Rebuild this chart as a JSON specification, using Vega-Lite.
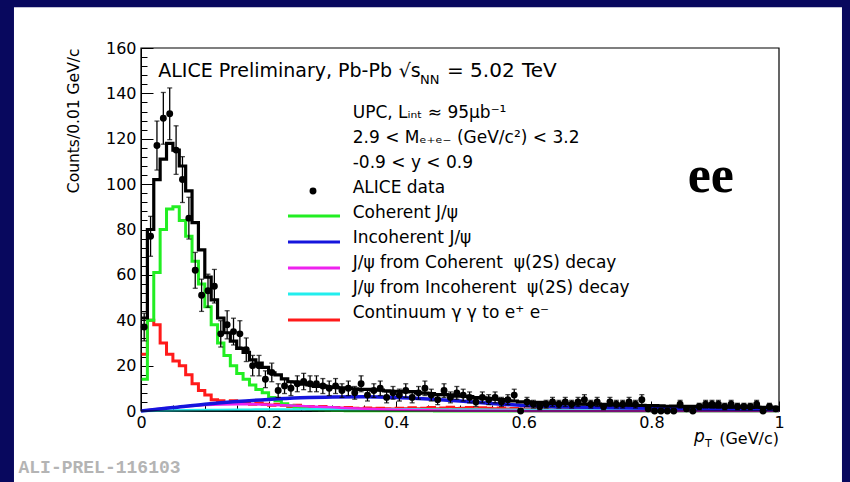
{
  "$schema": "https://vega.github.io/schema/vega-lite/v6.json",
  "width": 638,
  "height": 363,
  "autosize": {"type": "none"},
  "padding": {"left": 141, "top": 48, "right": 71, "bottom": 71},
  "background": "white",
  "resolve": {"axis": {"x": "independent", "y": "independent"}},
  "datasets": {
    "bins": [
      {"pt":0.00,"tot":41,"coh":14,"con":25},{"pt":0.01,"tot":80,"coh":40,"con":40},{"pt":0.02,"tot":102,"coh":61,"con":38},{"pt":0.03,"tot":111,"coh":80,"con":30},{"pt":0.04,"tot":118,"coh":89,"con":25},
      {"pt":0.05,"tot":115,"coh":90,"con":22},{"pt":0.06,"tot":108,"coh":84,"con":20},{"pt":0.07,"tot":97,"coh":77,"con":16},{"pt":0.08,"tot":83,"coh":66,"con":12},{"pt":0.09,"tot":71,"coh":56,"con":9},
      {"pt":0.10,"tot":59,"coh":46,"con":7},{"pt":0.11,"tot":49,"coh":38,"con":5},{"pt":0.12,"tot":41,"coh":30,"con":4.5},{"pt":0.13,"tot":34.5,"coh":24.5,"con":3.5},{"pt":0.14,"tot":30.8,"coh":20,"con":4.5},
      {"pt":0.15,"tot":27.6,"coh":16.5,"con":3.5},{"pt":0.16,"tot":25.8,"coh":14,"con":4},{"pt":0.17,"tot":22.5,"coh":11.5,"con":3},{"pt":0.18,"tot":21.1,"coh":9.5,"con":3.5},{"pt":0.19,"tot":19.2,"coh":8,"con":3},
      {"pt":0.20,"tot":16.8,"coh":6,"con":2.5},{"pt":0.21,"tot":15.9,"coh":4.5,"con":3},{"pt":0.22,"tot":14.2,"coh":3.2,"con":2.5},{"pt":0.23,"tot":12.9,"coh":2.3,"con":2},{"pt":0.24,"tot":12.7,"coh":1.6,"con":2.5},
      {"pt":0.25,"tot":11.8,"coh":1.1,"con":2},{"pt":0.26,"tot":11.5,"coh":0.8,"con":2},{"pt":0.27,"tot":10.8,"coh":0.6,"con":1.5},{"pt":0.28,"tot":11.1,"coh":0.4,"con":2},{"pt":0.29,"tot":10.5,"coh":0.3,"con":1.5},
      {"pt":0.30,"tot":10.4,"coh":0.2,"con":1.5},{"pt":0.31,"tot":10.2,"coh":0.2,"con":1.2},{"pt":0.32,"tot":10.1,"coh":0.1,"con":1.5},{"pt":0.33,"tot":9.8,"coh":0.1,"con":1.2},{"pt":0.34,"tot":9.5,"coh":0.1,"con":1.0},
      {"pt":0.35,"tot":9.5,"coh":0.1,"con":1.3},{"pt":0.36,"tot":9.2,"coh":0.1,"con":1.0},{"pt":0.37,"tot":9.2,"coh":0.1,"con":1.2},{"pt":0.38,"tot":8.9,"coh":0.1,"con":1.0},{"pt":0.39,"tot":8.7,"coh":0.1,"con":0.9},
      {"pt":0.40,"tot":8.7,"coh":0.1,"con":1.2},{"pt":0.41,"tot":8.4,"coh":0.1,"con":1.0},{"pt":0.42,"tot":8.5,"coh":0.1,"con":1.4},{"pt":0.43,"tot":8.0,"coh":0.1,"con":1.0},{"pt":0.44,"tot":7.9,"coh":0.1,"con":1.2},
      {"pt":0.45,"tot":7.7,"coh":0.1,"con":1.5},{"pt":0.46,"tot":7.2,"coh":0,"con":1.0},{"pt":0.47,"tot":7.2,"coh":0,"con":1.3},{"pt":0.48,"tot":7.1,"coh":0,"con":1.6},{"pt":0.49,"tot":6.6,"coh":0,"con":1.1},
      {"pt":0.50,"tot":6.5,"coh":0,"con":1.2},{"pt":0.51,"tot":6.4,"coh":0,"con":1.5},{"pt":0.52,"tot":5.9,"coh":0,"con":1.0},{"pt":0.53,"tot":5.8,"coh":0,"con":1.4},{"pt":0.54,"tot":5.5,"coh":0,"con":1.2},
      {"pt":0.55,"tot":5.2,"coh":0,"con":1.0},{"pt":0.56,"tot":5.0,"coh":0,"con":1.3},{"pt":0.57,"tot":4.5,"coh":0,"con":0.9},{"pt":0.58,"tot":4.4,"coh":0,"con":1.1},{"pt":0.59,"tot":4.0,"coh":0,"con":0.8},
      {"pt":0.60,"tot":4.0,"coh":0,"con":0.9},{"pt":0.61,"tot":3.7,"coh":0,"con":0.7},{"pt":0.62,"tot":3.8,"coh":0,"con":1.0},{"pt":0.63,"tot":3.5,"coh":0,"con":0.8},{"pt":0.64,"tot":3.3,"coh":0,"con":0.6},
      {"pt":0.65,"tot":3.4,"coh":0,"con":0.9},{"pt":0.66,"tot":3.2,"coh":0,"con":0.7},{"pt":0.67,"tot":3.2,"coh":0,"con":0.8},{"pt":0.68,"tot":3.0,"coh":0,"con":0.6},{"pt":0.69,"tot":3.0,"coh":0,"con":0.7},
      {"pt":0.70,"tot":2.9,"coh":0,"con":0.6},{"pt":0.71,"tot":3.0,"coh":0,"con":0.8},{"pt":0.72,"tot":2.7,"coh":0,"con":0.5},{"pt":0.73,"tot":2.8,"coh":0,"con":0.7},{"pt":0.74,"tot":2.7,"coh":0,"con":0.6},
      {"pt":0.75,"tot":2.6,"coh":0,"con":0.5},{"pt":0.76,"tot":2.7,"coh":0,"con":0.7},{"pt":0.77,"tot":2.5,"coh":0,"con":0.5},{"pt":0.78,"tot":2.5,"coh":0,"con":0.6},{"pt":0.79,"tot":2.4,"coh":0,"con":0.5},
      {"pt":0.80,"tot":2.4,"coh":0,"con":0.6},{"pt":0.81,"tot":2.3,"coh":0,"con":0.5},{"pt":0.82,"tot":2.1,"coh":0,"con":0.4},{"pt":0.83,"tot":2.2,"coh":0,"con":0.6},{"pt":0.84,"tot":2.1,"coh":0,"con":0.5},
      {"pt":0.85,"tot":2.0,"coh":0,"con":0.4},{"pt":0.86,"tot":2.0,"coh":0,"con":0.5},{"pt":0.87,"tot":1.9,"coh":0,"con":0.4},{"pt":0.88,"tot":2.0,"coh":0,"con":0.5},{"pt":0.89,"tot":1.9,"coh":0,"con":0.4},
      {"pt":0.90,"tot":1.8,"coh":0,"con":0.4},{"pt":0.91,"tot":1.9,"coh":0,"con":0.5},{"pt":0.92,"tot":1.7,"coh":0,"con":0.3},{"pt":0.93,"tot":1.8,"coh":0,"con":0.4},{"pt":0.94,"tot":1.7,"coh":0,"con":0.4},
      {"pt":0.95,"tot":1.6,"coh":0,"con":0.3},{"pt":0.96,"tot":1.7,"coh":0,"con":0.4},{"pt":0.97,"tot":1.6,"coh":0,"con":0.3},{"pt":0.98,"tot":1.6,"coh":0,"con":0.4},{"pt":0.99,"tot":1.5,"coh":0,"con":0.3},
      {"pt":1.00,"tot":1.5,"coh":0,"con":0.3}
    ],
    "curves": [
      {"pt":0.00,"inc":0,"psic":0,"psii":0},{"pt":0.05,"inc":1.5,"psic":1.5,"psii":0.2},{"pt":0.10,"inc":3.0,"psic":2.6,"psii":0.4},
      {"pt":0.15,"inc":4.2,"psic":3.0,"psii":0.55},{"pt":0.20,"inc":5.1,"psic":2.8,"psii":0.65},{"pt":0.25,"inc":5.8,"psic":2.2,"psii":0.7},
      {"pt":0.30,"inc":6.2,"psic":1.6,"psii":0.75},{"pt":0.35,"inc":6.3,"psic":1.0,"psii":0.75},{"pt":0.40,"inc":6.0,"psic":0.6,"psii":0.75},
      {"pt":0.45,"inc":5.3,"psic":0.3,"psii":0.7},{"pt":0.50,"inc":4.4,"psic":0.15,"psii":0.65},{"pt":0.55,"inc":3.3,"psic":0.08,"psii":0.6},
      {"pt":0.60,"inc":2.4,"psic":0.04,"psii":0.55},{"pt":0.65,"inc":1.9,"psic":0.02,"psii":0.5},{"pt":0.70,"inc":1.6,"psic":0.01,"psii":0.45},
      {"pt":0.75,"inc":1.4,"psic":0,"psii":0.4},{"pt":0.80,"inc":1.2,"psic":0,"psii":0.35},{"pt":0.85,"inc":1.0,"psic":0,"psii":0.32},
      {"pt":0.90,"inc":0.9,"psic":0,"psii":0.3},{"pt":0.95,"inc":0.8,"psic":0,"psii":0.28},{"pt":1.00,"inc":0.7,"psic":0,"psii":0.25}
    ],
    "points": [
      {"pt":0.005,"n":37,"err":6.1},{"pt":0.015,"n":77,"err":8.8},{"pt":0.025,"n":117,"err":10.8},{"pt":0.035,"n":129,"err":11.4},{"pt":0.045,"n":131,"err":11.4},
      {"pt":0.055,"n":115,"err":10.7},{"pt":0.065,"n":102,"err":10.1},{"pt":0.075,"n":85,"err":9.2},{"pt":0.085,"n":62,"err":7.9},{"pt":0.095,"n":51,"err":7.1},
      {"pt":0.105,"n":53,"err":7.3},{"pt":0.115,"n":55,"err":7.4},{"pt":0.125,"n":34,"err":5.8},{"pt":0.135,"n":38,"err":6.2},{"pt":0.145,"n":35,"err":5.9},
      {"pt":0.155,"n":34,"err":5.8},{"pt":0.165,"n":27,"err":5.2},{"pt":0.175,"n":20,"err":4.5},{"pt":0.185,"n":20,"err":4.5},{"pt":0.195,"n":14,"err":3.7},
      {"pt":0.205,"n":17,"err":4.1},{"pt":0.215,"n":9,"err":3},{"pt":0.225,"n":11,"err":3.3},{"pt":0.235,"n":10,"err":3.2},{"pt":0.245,"n":12,"err":3.5},
      {"pt":0.255,"n":13,"err":3.6},{"pt":0.265,"n":12,"err":3.5},{"pt":0.275,"n":12,"err":3.5},{"pt":0.285,"n":11,"err":3.3},{"pt":0.295,"n":10,"err":3.2},
      {"pt":0.305,"n":11,"err":3.3},{"pt":0.315,"n":9,"err":3},{"pt":0.325,"n":10,"err":3.2},{"pt":0.335,"n":8,"err":2.8},{"pt":0.345,"n":12,"err":3.5},
      {"pt":0.355,"n":7,"err":2.6},{"pt":0.365,"n":9,"err":3},{"pt":0.375,"n":10,"err":3.2},{"pt":0.385,"n":6,"err":2.4},{"pt":0.395,"n":8,"err":2.8},
      {"pt":0.405,"n":7,"err":2.6},{"pt":0.415,"n":9,"err":3},{"pt":0.425,"n":6,"err":2.4},{"pt":0.435,"n":8,"err":2.8},{"pt":0.445,"n":10,"err":3.2},
      {"pt":0.455,"n":7,"err":2.6},{"pt":0.465,"n":5,"err":2.2},{"pt":0.475,"n":9,"err":3},{"pt":0.485,"n":6,"err":2.4},{"pt":0.495,"n":8,"err":2.8},
      {"pt":0.505,"n":7,"err":2.6},{"pt":0.515,"n":6,"err":2.4},{"pt":0.525,"n":4,"err":2},{"pt":0.535,"n":6,"err":2.4},{"pt":0.545,"n":5,"err":2.2},
      {"pt":0.555,"n":6,"err":2.4},{"pt":0.565,"n":4,"err":2},{"pt":0.575,"n":5,"err":2.2},{"pt":0.585,"n":7,"err":2.6},{"pt":0.595,"n":0,"err":0},
      {"pt":0.605,"n":4,"err":2},{"pt":0.615,"n":3,"err":1.7},{"pt":0.625,"n":2,"err":1.4},{"pt":0.635,"n":3,"err":1.7},{"pt":0.645,"n":4,"err":2},
      {"pt":0.655,"n":3,"err":1.7},{"pt":0.665,"n":4,"err":2},{"pt":0.675,"n":3,"err":1.7},{"pt":0.685,"n":4,"err":2},{"pt":0.695,"n":5,"err":2.2},
      {"pt":0.705,"n":3,"err":1.7},{"pt":0.715,"n":4,"err":2},{"pt":0.725,"n":2,"err":1.4},{"pt":0.735,"n":4,"err":2},{"pt":0.745,"n":3,"err":1.7},
      {"pt":0.755,"n":3,"err":1.7},{"pt":0.765,"n":4,"err":2},{"pt":0.775,"n":3,"err":1.7},{"pt":0.785,"n":5,"err":2.2},{"pt":0.795,"n":1,"err":1},
      {"pt":0.805,"n":0,"err":0},{"pt":0.815,"n":0,"err":0},{"pt":0.825,"n":0,"err":0},{"pt":0.835,"n":0,"err":0},{"pt":0.845,"n":3,"err":1.7},
      {"pt":0.855,"n":1,"err":1},{"pt":0.865,"n":0,"err":0},{"pt":0.875,"n":2,"err":1.4},{"pt":0.885,"n":3,"err":1.7},{"pt":0.895,"n":3,"err":1.7},
      {"pt":0.905,"n":3,"err":1.7},{"pt":0.915,"n":2,"err":1.4},{"pt":0.925,"n":3,"err":1.7},{"pt":0.935,"n":2,"err":1.4},{"pt":0.945,"n":2,"err":1.4},
      {"pt":0.955,"n":2,"err":1.4},{"pt":0.965,"n":3,"err":1.7},{"pt":0.975,"n":0,"err":0},{"pt":0.985,"n":2,"err":1.4},{"pt":0.995,"n":1,"err":1}
    ]
  },
  "config": {
    "view": {"stroke": null},
    "axis": {"grid": false, "domainColor": "black", "domainWidth": 1, "tickColor": "black", "tickWidth": 1, "labelColor": "black", "labelFont": "DejaVu Sans", "labelFontSize": 16, "titleFont": "DejaVu Sans", "titleFontWeight": "normal", "titleColor": "black", "labelFlush": false, "labelOverlap": false}
  },
  "layer": [
    {
      "data": {"name": "bins"},
      "mark": {"type": "line", "interpolate": "step-after", "color": "#ff1a1a", "strokeWidth": 3},
      "encoding": {
        "x": {"field": "pt", "type": "quantitative", "title": null, "scale": {"domain": [0, 1], "nice": false},
          "axis": {"orient": "bottom", "title": null, "values": [0, 0.2, 0.4, 0.6, 0.8, 1], "format": ".1~f", "tickSize": -10, "labelPadding": 13}},
        "y": {"field": "con", "type": "quantitative", "title": "Counts/0.01 GeV/c", "scale": {"domain": [0, 160], "nice": false},
          "axis": {"orient": "left", "title": "Counts/0.01 GeV/c", "titleAnchor": "end", "titleFontSize": 15.5, "titlePadding": 24, "format": "d",
            "values": [0, 20, 40, 60, 80, 100, 120, 140, 160], "tickSize": -12, "labelPadding": 17}}
      }
    },
    {
      "data": {"name": "bins"},
      "mark": {"type": "line", "interpolate": "step-after", "color": "#22ee22", "strokeWidth": 3},
      "encoding": {
        "x": {"field": "pt", "type": "quantitative", "title": null, "scale": {"domain": [0, 1]},
          "axis": {"orient": "bottom", "title": null, "labels": false, "domain": false, "tickSize": -6,
            "values": [0.05, 0.1, 0.15, 0.25, 0.3, 0.35, 0.45, 0.5, 0.55, 0.65, 0.7, 0.75, 0.85, 0.9, 0.95]}},
        "y": {"field": "coh", "type": "quantitative", "title": null, "scale": {"domain": [0, 160]},
          "axis": {"orient": "left", "title": null, "labels": false, "domain": false, "tickSize": -6,
            "values": [4, 8, 12, 16, 24, 28, 32, 36, 44, 48, 52, 56, 64, 68, 72, 76, 84, 88, 92, 96, 104, 108, 112, 116, 124, 128, 132, 136, 144, 148, 152, 156]}}
      }
    },
    {
      "data": {"name": "curves"},
      "mark": {"type": "line", "interpolate": "monotone", "color": "#22eeee", "strokeWidth": 2.5},
      "encoding": {"x": {"field": "pt", "type": "quantitative", "axis": null, "scale": {"domain": [0, 1]}}, "y": {"field": "psii", "type": "quantitative", "axis": null, "scale": {"domain": [0, 160]}}}
    },
    {
      "data": {"name": "curves"},
      "mark": {"type": "line", "interpolate": "monotone", "color": "#ee22ee", "strokeWidth": 2.5},
      "encoding": {"x": {"field": "pt", "type": "quantitative", "axis": null, "scale": {"domain": [0, 1]}}, "y": {"field": "psic", "type": "quantitative", "axis": null, "scale": {"domain": [0, 160]}}}
    },
    {
      "data": {"name": "curves"},
      "mark": {"type": "line", "interpolate": "monotone", "color": "#1515dd", "strokeWidth": 3.5},
      "encoding": {"x": {"field": "pt", "type": "quantitative", "axis": null, "scale": {"domain": [0, 1]}}, "y": {"field": "inc", "type": "quantitative", "axis": null, "scale": {"domain": [0, 160]}}}
    },
    {
      "data": {"name": "bins"},
      "mark": {"type": "line", "interpolate": "step-after", "color": "black", "strokeWidth": 3.2},
      "encoding": {"x": {"field": "pt", "type": "quantitative", "axis": null, "scale": {"domain": [0, 1]}}, "y": {"field": "tot", "type": "quantitative", "axis": null, "scale": {"domain": [0, 160]}}}
    },
    {
      "data": {"name": "points"},
      "transform": [{"filter": "datum.err > 0"}],
      "mark": {"type": "errorbar", "color": "black", "thickness": 1.3, "ticks": {"size": 5, "color": "black", "thickness": 1.3}},
      "encoding": {"x": {"field": "pt", "type": "quantitative", "axis": null, "scale": {"domain": [0, 1]}}, "y": {"field": "n", "type": "quantitative", "axis": null, "scale": {"domain": [0, 160]}}, "yError": {"field": "err"}}
    },
    {
      "data": {"name": "points"},
      "mark": {"type": "point", "filled": true, "color": "black", "opacity": 1, "size": 48},
      "encoding": {"x": {"field": "pt", "type": "quantitative", "axis": null, "scale": {"domain": [0, 1]}}, "y": {"field": "n", "type": "quantitative", "axis": null, "scale": {"domain": [0, 160]}}}
    },
    {
      "data": {"values": [{}]},
      "mark": {"type": "rect", "fill": null, "fillOpacity": 0, "stroke": "black", "strokeWidth": 1.2},
      "encoding": {"x": {"datum": 0, "axis": null, "scale": {"domain": [0, 1]}}, "x2": {"datum": 1}, "y": {"datum": 0, "axis": null, "scale": {"domain": [0, 160]}}, "y2": {"datum": 160}}
    },
    {
      "data": {"values": [{}]},
      "mark": {"type": "rect", "color": "#08085e"},
      "encoding": {"x": {"datum": -0.3, "axis": null, "scale": {"domain": [0, 1]}}, "x2": {"datum": -0.1991}, "y": {"datum": -40, "axis": null, "scale": {"domain": [0, 160]}}, "y2": {"datum": 200}}
    },
    {
      "data": {"values": [{}]},
      "mark": {"type": "rect", "color": "#08085e"},
      "encoding": {"x": {"datum": 1.0987, "axis": null, "scale": {"domain": [0, 1]}}, "x2": {"datum": 1.3}, "y": {"datum": -40, "axis": null, "scale": {"domain": [0, 160]}}, "y2": {"datum": 200}}
    },
    {
      "data": {"values": [{}]},
      "mark": {"type": "rect", "color": "#08085e"},
      "encoding": {"x": {"datum": -0.3, "axis": null, "scale": {"domain": [0, 1]}}, "x2": {"datum": 1.3}, "y": {"datum": 178, "axis": null, "scale": {"domain": [0, 160]}}, "y2": {"datum": 200}}
    },
    {
      "data": {"values": [{}]},
      "mark": {"type": "rule", "color": "#22ee22", "strokeWidth": 3},
      "encoding": {"x": {"datum": 0.2304, "axis": null, "scale": {"domain": [0, 1]}}, "x2": {"datum": 0.3119}, "y": {"datum": 85.9, "axis": null, "scale": {"domain": [0, 160]}}}
    },
    {
      "data": {"values": [{}]},
      "mark": {"type": "rule", "color": "#1515dd", "strokeWidth": 3},
      "encoding": {"x": {"datum": 0.2304, "axis": null, "scale": {"domain": [0, 1]}}, "x2": {"datum": 0.3119}, "y": {"datum": 74.5, "axis": null, "scale": {"domain": [0, 160]}}}
    },
    {
      "data": {"values": [{}]},
      "mark": {"type": "rule", "color": "#ee22ee", "strokeWidth": 3},
      "encoding": {"x": {"datum": 0.2304, "axis": null, "scale": {"domain": [0, 1]}}, "x2": {"datum": 0.3119}, "y": {"datum": 63.0, "axis": null, "scale": {"domain": [0, 160]}}}
    },
    {
      "data": {"values": [{}]},
      "mark": {"type": "rule", "color": "#22eeee", "strokeWidth": 3},
      "encoding": {"x": {"datum": 0.2304, "axis": null, "scale": {"domain": [0, 1]}}, "x2": {"datum": 0.3119}, "y": {"datum": 51.6, "axis": null, "scale": {"domain": [0, 160]}}}
    },
    {
      "data": {"values": [{}]},
      "mark": {"type": "rule", "color": "#ff1a1a", "strokeWidth": 3},
      "encoding": {"x": {"datum": 0.2304, "axis": null, "scale": {"domain": [0, 1]}}, "x2": {"datum": 0.3119}, "y": {"datum": 40.1, "axis": null, "scale": {"domain": [0, 160]}}}
    },
    {
      "data": {"values": [{}]},
      "mark": {"type": "point", "filled": true, "color": "black", "opacity": 1, "size": 48},
      "encoding": {"x": {"datum": 0.2696, "axis": null, "scale": {"domain": [0, 1]}}, "y": {"datum": 97.0, "axis": null, "scale": {"domain": [0, 160]}}}
    },
    {
      "data": {"values": [{}]},
      "mark": {"type": "text", "align": "left", "baseline": "alphabetic", "font": "DejaVu Sans", "fontSize": 17, "lineHeight": 25, "color": "black",
        "text": ["UPC, Lᵢₙₜ ≈ 95μb⁻¹", "2.9 < Mₑ₊ₑ₋ (GeV/c²) < 3.2", "-0.9 < y < 0.9", "ALICE data", "\u00a0Coherent J/ψ", "\u00a0Incoherent J/ψ", "J/ψ from Coherent \u00a0ψ(2S) decay", "J/ψ from Incoherent \u00a0ψ(2S) decay", "Continuum γ γ to e⁺ e⁻"]},
      "encoding": {"x": {"datum": 0.3318, "axis": null, "scale": {"domain": [0, 1]}}, "y": {"datum": 129.0, "axis": null, "scale": {"domain": [0, 160]}}}
    },
    {
      "data": {"values": [{}]},
      "mark": {"type": "text", "align": "left", "baseline": "alphabetic", "font": "DejaVu Sans", "fontSize": 19, "color": "black", "text": "ALICE Preliminary, Pb-Pb"},
      "encoding": {"x": {"datum": 0.027, "axis": null, "scale": {"domain": [0, 1]}}, "y": {"datum": 147.3, "axis": null, "scale": {"domain": [0, 160]}}}
    },
    {
      "data": {"values": [{}]},
      "mark": {"type": "text", "align": "left", "baseline": "alphabetic", "font": "DejaVu Sans", "fontSize": 19, "color": "black", "text": "√s"},
      "encoding": {"x": {"datum": 0.404, "axis": null, "scale": {"domain": [0, 1]}}, "y": {"datum": 147.3, "axis": null, "scale": {"domain": [0, 160]}}}
    },
    {
      "data": {"values": [{}]},
      "mark": {"type": "text", "align": "left", "baseline": "alphabetic", "font": "DejaVu Sans", "fontSize": 13, "color": "black", "text": "NN"},
      "encoding": {"x": {"datum": 0.4373, "axis": null, "scale": {"domain": [0, 1]}}, "y": {"datum": 144.1, "axis": null, "scale": {"domain": [0, 160]}}}
    },
    {
      "data": {"values": [{}]},
      "mark": {"type": "text", "align": "left", "baseline": "alphabetic", "font": "DejaVu Sans", "fontSize": 20, "color": "black", "text": "= 5.02"},
      "encoding": {"x": {"datum": 0.4796, "axis": null, "scale": {"domain": [0, 1]}}, "y": {"datum": 147.3, "axis": null, "scale": {"domain": [0, 160]}}}
    },
    {
      "data": {"values": [{}]},
      "mark": {"type": "text", "align": "left", "baseline": "alphabetic", "font": "DejaVu Sans", "fontSize": 20, "color": "black", "text": "TeV"},
      "encoding": {"x": {"datum": 0.597, "axis": null, "scale": {"domain": [0, 1]}}, "y": {"datum": 147.3, "axis": null, "scale": {"domain": [0, 160]}}}
    },
    {
      "data": {"values": [{}]},
      "mark": {"type": "text", "align": "left", "baseline": "alphabetic", "font": "Liberation Serif", "fontWeight": "bold", "fontSize": 52, "color": "black", "text": "ee"},
      "encoding": {"x": {"datum": 0.857, "axis": null, "scale": {"domain": [0, 1]}}, "y": {"datum": 96.5, "axis": null, "scale": {"domain": [0, 160]}}}
    },
    {
      "data": {"values": [{}]},
      "mark": {"type": "text", "align": "left", "baseline": "alphabetic", "font": "DejaVu Sans", "fontStyle": "italic", "fontSize": 17, "color": "black", "text": "p"},
      "encoding": {"x": {"datum": 0.8668, "axis": null, "scale": {"domain": [0, 1]}}, "y": {"datum": -13.7, "axis": null, "scale": {"domain": [0, 160]}}}
    },
    {
      "data": {"values": [{}]},
      "mark": {"type": "text", "align": "left", "baseline": "alphabetic", "font": "DejaVu Sans", "fontSize": 11, "color": "black", "text": "T"},
      "encoding": {"x": {"datum": 0.884, "axis": null, "scale": {"domain": [0, 1]}}, "y": {"datum": -16.0, "axis": null, "scale": {"domain": [0, 160]}}}
    },
    {
      "data": {"values": [{}]},
      "mark": {"type": "text", "align": "right", "baseline": "alphabetic", "font": "DejaVu Sans", "fontSize": 16, "color": "black", "text": "(GeV/c)"},
      "encoding": {"x": {"datum": 1.0, "axis": null, "scale": {"domain": [0, 1]}}, "y": {"datum": -14.5, "axis": null, "scale": {"domain": [0, 160]}}}
    },
    {
      "data": {"values": [{}]},
      "mark": {"type": "text", "align": "left", "baseline": "alphabetic", "font": "Liberation Mono", "fontWeight": "bold", "fontSize": 18, "color": "#b4b4b4", "text": "ALI-PREL-116103"},
      "encoding": {"x": {"datum": -0.192, "axis": null, "scale": {"domain": [0, 1]}}, "y": {"datum": -27.3, "axis": null, "scale": {"domain": [0, 160]}}}
    }
  ]
}
